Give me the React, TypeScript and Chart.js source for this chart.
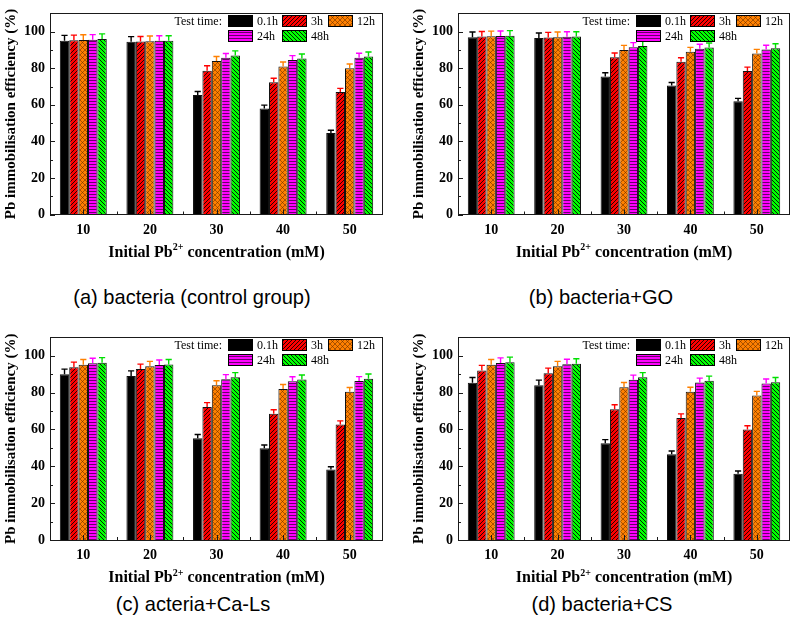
import React, { useEffect, useRef } from 'react';
import { Chart, registerables } from 'chart.js';
Chart.register(...registerables);

// ---------- data ----------
const concentrations = [10, 20, 30, 40, 50];
const testTimes = ['0.1h', '3h', '12h', '24h', '48h'];
const yTickLabelValues = [0, 20, 40, 60, 80, 100];

// (a) bacteria (control group)
const a01 = [95, 94.5, 65.3, 58, 44.6];
const a3 = [95.3, 94.6, 78.6, 72.3, 67];
const a12 = [95.5, 94.8, 83.9, 81, 80];
const a24 = [95.6, 95, 85.7, 84.5, 85.8];
const a48 = [96, 95.1, 87, 85.3, 86.4];
const aErr01 = [3, 2.8, 2, 1.8, 1.5];
const aErr3 = [2.8, 2.8, 2.8, 2.2, 2];
const aErr12 = [2.8, 2.8, 2.5, 2.4, 2.3];
const aErr24 = [2.8, 2.8, 2.4, 2.4, 2.4];
const aErr48 = [2.8, 2.7, 2.5, 2.5, 2.5];

// (b) bacteria+GO
const b01 = [97, 96.5, 75.5, 70.5, 62];
const b3 = [97.3, 96.8, 86, 83.5, 78.5];
const b12 = [97.5, 97, 90, 89, 88];
const b24 = [97.6, 97.2, 91.5, 90.7, 90.2];
const b48 = [97.8, 97.3, 92.2, 91.3, 90.9];
const bErr01 = [2.8, 2.8, 2, 1.7, 1.5];
const bErr3 = [2.8, 2.8, 2.3, 2.2, 2.1];
const bErr12 = [2.8, 2.8, 2.5, 2.4, 2.3];
const bErr24 = [2.8, 2.8, 2.5, 2.4, 2.4];
const bErr48 = [2.8, 2.7, 2.5, 2.5, 2.5];

// (c) acteria+Ca-Ls
const c01 = [90, 89, 55.3, 49.8, 38.3];
const c3 = [93.8, 92.8, 72.2, 68.5, 62.7];
const c12 = [95.2, 94.3, 84, 82, 80.5];
const c24 = [95.9, 95, 87.3, 86.2, 86.3];
const c48 = [96.2, 95.3, 88.4, 87.1, 87.6];
const cErr01 = [2.8, 2.8, 2, 1.8, 1.5];
const cErr3 = [2.8, 2.7, 2.4, 2.2, 2];
const cErr12 = [2.8, 2.7, 2.5, 2.4, 2.3];
const cErr24 = [2.8, 2.7, 2.5, 2.4, 2.4];
const cErr48 = [2.8, 2.7, 2.5, 2.5, 2.5];

// (d) bacteria+CS
const d01 = [85.4, 84, 52.5, 46.5, 36];
const d3 = [92, 90.6, 71, 66.3, 60];
const d12 = [95.2, 94.3, 83, 80.5, 78.4];
const d24 = [96.1, 95.4, 87, 85.5, 85];
const d48 = [96.5, 95.7, 88.4, 86.5, 85.7];
const dErr01 = [2.8, 2.8, 2, 1.8, 1.5];
const dErr3 = [2.8, 2.7, 2.4, 2.2, 2];
const dErr12 = [2.8, 2.7, 2.5, 2.4, 2.3];
const dErr24 = [2.8, 2.7, 2.5, 2.4, 2.4];
const dErr48 = [2.8, 2.7, 2.5, 2.5, 2.5];

const captionA = '(a) bacteria (control group)';
const captionB = '(b) bacteria+GO';
const captionC = '(c) acteria+Ca-Ls';
const captionD = '(d) bacteria+CS';

// ---------- styles ----------
const fillColors = ['#000000', '#ff0000', '#ff8000', '#ff00ff', '#00ff00'];
const errorColors = ['#000000', '#ff0000', '#ff8000', '#ff00ff', '#00e000'];
const patternKinds = ['solid', 'fwd', 'cross', 'horiz', 'back'];
const SERIF = '"Liberation Serif", "Times New Roman", serif';

function makePattern(kind: string, color: string): CanvasPattern | string {
  if (kind === 'solid') return color;
  const c = document.createElement('canvas');
  const s = kind === 'horiz' ? 3 : kind === 'cross' ? 5 : 4;
  c.width = s;
  c.height = s;
  const ctx = c.getContext('2d')!;
  ctx.fillStyle = color;
  ctx.fillRect(0, 0, s, s);
  ctx.strokeStyle = kind === 'cross' ? 'rgba(90,40,0,0.75)' : 'rgba(0,0,0,0.85)';
  ctx.lineWidth = 1;
  if (kind === 'horiz') {
    ctx.fillStyle = 'rgba(40,0,40,0.7)';
    ctx.fillRect(0, 2, s, 1);
  } else {
    ctx.beginPath();
    if (kind === 'fwd' || kind === 'cross') {
      ctx.moveTo(0, s); ctx.lineTo(s, 0);
      ctx.moveTo(-1, 1); ctx.lineTo(1, -1);
      ctx.moveTo(s - 1, s + 1); ctx.lineTo(s + 1, s - 1);
    }
    if (kind === 'back' || kind === 'cross') {
      ctx.moveTo(0, 0); ctx.lineTo(s, s);
      ctx.moveTo(-1, s - 1); ctx.lineTo(1, s + 1);
      ctx.moveTo(s - 1, -1); ctx.lineTo(s + 1, 1);
    }
    if (kind === 'cross') ctx.lineWidth = 0.7;
    ctx.stroke();
  }
  return ctx.createPattern(c, 'repeat')!;
}

interface PanelProps {
  left: number;
  top: number;
  width: number;
  height: number;
  padTop: number;
  padRight: number;
  plotBottom: number;
  values: number[][];
  errors: number[][];
}

function Panel(props: PanelProps) {
  const ref = useRef<HTMLCanvasElement>(null);
  useEffect(() => {
    const canvas = ref.current!;
    const { values, errors, height, plotBottom, padTop, padRight } = props;
    const fills = patternKinds.map((k, i) => makePattern(k, fillColors[i]));

    const decor = {
      id: 'decor',
      afterDatasetsDraw(chart: any) {
        const ctx = chart.ctx;
        const ys = chart.scales.y;
        chart.data.datasets.forEach((ds: any, i: number) => {
          const meta = chart.getDatasetMeta(i);
          meta.data.forEach((bar: any, j: number) => {
            const v = values[i][j];
            const topPx = ys.getPixelForValue(v + errors[i][j]);
            const w = bar.width;
            ctx.save();
            ctx.strokeStyle = errorColors[i];
            ctx.lineWidth = 1.4;
            ctx.beginPath();
            ctx.moveTo(bar.x, bar.y);
            ctx.lineTo(bar.x, topPx);
            ctx.moveTo(bar.x - w * 0.33, topPx);
            ctx.lineTo(bar.x + w * 0.33, topPx);
            ctx.stroke();
            ctx.restore();
          });
        });
      },
      afterDraw(chart: any) {
        const ctx = chart.ctx;
        const ca = chart.chartArea;
        const xs = chart.scales.x;
        const ys = chart.scales.y;
        ctx.save();
        ctx.strokeStyle = '#1a1a1a';
        ctx.lineWidth = 1;
        ctx.strokeRect(Math.round(ca.left) + 0.5, Math.round(ca.top) + 0.5, Math.round(ca.right - ca.left) - 1, Math.round(ca.bottom - ca.top));
        // y ticks (inward)
        ctx.beginPath();
        ys.ticks.forEach((t: any) => {
          const py = Math.round(ys.getPixelForValue(t.value)) + 0.5;
          const len = t.value % 20 === 0 ? 5 : 3;
          ctx.moveTo(ca.left, py);
          ctx.lineTo(ca.left + len, py);
        });
        // x ticks (inward), majors from tick list and minors halfway
        xs.ticks.forEach((t: any, k: number) => {
          const px = Math.round(xs.getPixelForValue(t.value)) + 0.5;
          ctx.moveTo(px, ca.bottom);
          ctx.lineTo(px, ca.bottom - 5);
          if (k > 0) {
            const prev = xs.ticks[k - 1].value;
            const pm = Math.round(xs.getPixelForValue((prev + t.value) / 2)) + 0.5;
            ctx.moveTo(pm, ca.bottom);
            ctx.lineTo(pm, ca.bottom - 3);
          }
        });
        ctx.stroke();

        // legend
        const bx = [178, 232, 278];
        const rowsY = [1.7, 16.7];
        ctx.font = '12px ' + SERIF;
        ctx.fillStyle = '#000';
        ctx.textBaseline = 'middle';
        ctx.textAlign = 'right';
        ctx.fillText('Test time:', ca.left + 172, ca.top + rowsY[0] + 6.5);
        ctx.textAlign = 'left';
        testTimes.forEach((lab, i) => {
          const r = i < 3 ? 0 : 1;
          const col = i < 3 ? i : i - 3;
          const x = Math.round(ca.left + bx[col]);
          const y = Math.round(ca.top + rowsY[r]);
          ctx.fillStyle = fills[i] as any;
          ctx.fillRect(x, y, 25, 12);
          ctx.strokeStyle = '#000';
          ctx.strokeRect(x + 0.5, y + 0.5, 24, 11);
          ctx.fillStyle = '#000';
          ctx.fillText(lab, x + 29, y + 6.5);
        });

        // x axis title with superscript
        const cx = (ca.left + ca.right) / 2;
        const base = ca.bottom + 42;
        const p1 = 'Initial Pb';
        const sup = '2+';
        const p2 = ' concentration (mM)';
        ctx.textBaseline = 'alphabetic';
        ctx.font = 'bold 16px ' + SERIF;
        const w1 = ctx.measureText(p1).width;
        const w2 = ctx.measureText(p2).width;
        ctx.font = 'bold 10px ' + SERIF;
        const ws = ctx.measureText(sup).width;
        const x0 = cx - (w1 + ws + w2) / 2;
        ctx.font = 'bold 16px ' + SERIF;
        ctx.fillText(p1, x0, base);
        ctx.fillText(p2, x0 + w1 + ws, base);
        ctx.font = 'bold 10px ' + SERIF;
        ctx.fillText(sup, x0 + w1, base - 6.5);
        ctx.restore();
      },
    };

    const chart = new Chart(canvas, {
      type: 'bar',
      data: {
        datasets: testTimes.map((lab, i) => ({
          label: lab,
          data: concentrations.map((c, j) => ({ x: c, y: values[i][j] })),
          backgroundColor: fills[i] as any,
          borderColor: '#111',
          borderWidth: 1,
          categoryPercentage: 0.705,
          barPercentage: 1,
        })),
      },
      options: {
        animation: false,
        responsive: false,
        maintainAspectRatio: false,
        layout: { padding: { top: padTop, right: padRight, left: 0, bottom: 0 } },
        plugins: { legend: { display: false }, tooltip: { enabled: false } },
        scales: {
          x: {
            type: 'linear',
            min: 5,
            max: 55,
            offset: false,
            grid: { display: false, drawTicks: false },
            border: { display: false },
            afterBuildTicks: (s: any) => {
              s.ticks = concentrations.map((v) => ({ value: v }));
            },
            afterFit: (s: any) => {
              s.height = height - plotBottom;
            },
            ticks: {
              autoSkip: false,
              maxRotation: 0,
              padding: 7,
              color: '#000',
              font: { family: SERIF, size: 14, weight: 'bold' },
              callback: (v: any) => String(v),
            },
          },
          y: {
            min: 0,
            max: 110,
            grid: { display: false, drawTicks: false },
            border: { display: false },
            afterFit: (s: any) => {
              s.width = 50;
            },
            ticks: {
              stepSize: 10,
              autoSkip: false,
              padding: 5,
              color: '#000',
              font: { family: SERIF, size: 14, weight: 'bold' },
              callback: (v: any) => (yTickLabelValues.includes(v) ? String(v) : ''),
            },
            title: {
              display: true,
              text: 'Pb immobilisation efficiency (%)',
              color: '#000',
              font: { family: SERIF, size: 15, weight: 'bold' },
              padding: { top: 2, bottom: 0 },
            },
          },
        },
      } as any,
      plugins: [decor as any],
    });
    return () => chart.destroy();
  }, []);
  return (
    <canvas
      ref={ref}
      width={props.width}
      height={props.height}
      style={{ position: 'absolute', left: props.left, top: props.top, width: props.width, height: props.height }}
    />
  );
}

function Caption({ text, cx, cy }: { text: string; cx: number; cy: number }) {
  return (
    <div
      style={{
        position: 'absolute',
        left: cx - 200,
        top: cy - 12,
        width: 400,
        height: 24,
        lineHeight: '24px',
        textAlign: 'center',
        fontFamily: '"Liberation Sans", Arial, sans-serif',
        fontSize: 21,
        color: '#000',
        transform: 'scaleX(0.955)',
        whiteSpace: 'nowrap',
      }}
    >
      {text}
    </div>
  );
}

export default function App() {
  return (
    <div style={{ position: 'absolute', left: 0, top: 0, width: 793, height: 630, background: '#fff', overflow: 'hidden' }}>
      <Panel left={0} top={0} width={396} height={268} padTop={10} padRight={13} plotBottom={214.5}
        values={[a01, a3, a12, a24, a48]} errors={[aErr01, aErr3, aErr12, aErr24, aErr48]} />
      <Panel left={408} top={0} width={385} height={268} padTop={10} padRight={3} plotBottom={214.5}
        values={[b01, b3, b12, b24, b48]} errors={[bErr01, bErr3, bErr12, bErr24, bErr48]} />
      <Panel left={0} top={324} width={396} height={268} padTop={10.5} padRight={13} plotBottom={216}
        values={[c01, c3, c12, c24, c48]} errors={[cErr01, cErr3, cErr12, cErr24, cErr48]} />
      <Panel left={408} top={324} width={385} height={268} padTop={10.5} padRight={3} plotBottom={216}
        values={[d01, d3, d12, d24, d48]} errors={[dErr01, dErr3, dErr12, dErr24, dErr48]} />
      <Caption text={captionA} cx={192} cy={297} />
      <Caption text={captionB} cx={601} cy={297} />
      <Caption text={captionC} cx={193} cy={604} />
      <Caption text={captionD} cx={602} cy={604} />
    </div>
  );
}
